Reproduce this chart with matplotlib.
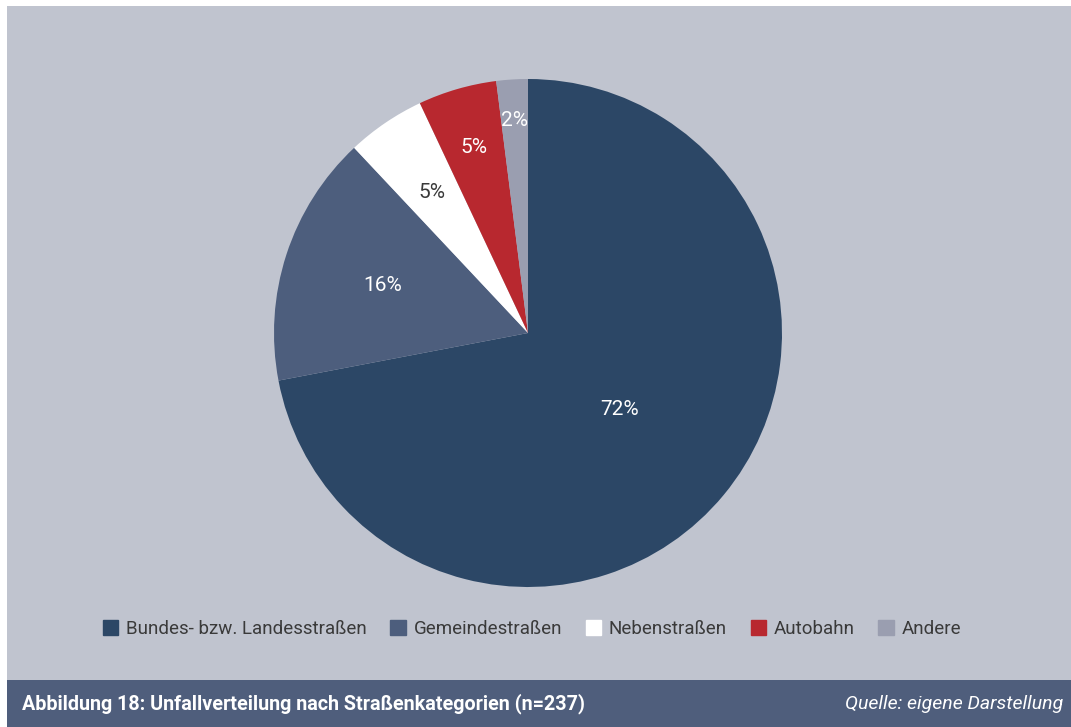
import numpy as np
import matplotlib.pyplot as plt
from matplotlib.patches import Rectangle

# Unfallverteilung nach Straßenkategorien (n=237)
categories = ["Bundes- bzw. Landesstraßen", "Gemeindestraßen", "Nebenstraßen", "Autobahn", "Andere"]
shares = [72, 16, 5, 5, 2]
labels = ["72%", "16%", "5%", "5%", "2%"]

colors = ["#2c4766", "#4d5e7d", "#ffffff", "#b8282f", "#9a9eb0"]
text_colors = ["white", "white", "#3a3a3a", "white", "white"]
label_r = [0.47, 0.60, 0.67, 0.76, 0.84]

plt.rcParams["font.family"] = ["Roboto", "DejaVu Sans"]

W, H = 1071, 727
fig = plt.figure(figsize=(W / 100, H / 100), dpi=100)
fig.patch.set_facecolor("white")

# background panel and footer bar
bg = fig.add_axes([0, 0, 1, 1])
bg.set_xlim(0, W)
bg.set_ylim(H, 0)
bg.axis("off")
bg.add_patch(Rectangle((7, 6), W - 7, 674, color="#c0c4cf", lw=0))
bg.add_patch(Rectangle((7, 680), W - 7, H - 680, color="#4f5e7c", lw=0))
bg.text(22, 704, "Abbildung 18: Unfallverteilung nach Straßenkategorien (n=237)",
        color="white", fontsize=14.2, fontweight="bold", va="center", ha="left")
bg.text(1063, 704, "Quelle: eigene Darstellung", color="white", fontsize=14,
        style="italic", va="center", ha="right")

# pie
ax = fig.add_axes([274 / W, (H - 587) / H, 508 / W, 508 / H])
wedges, _ = ax.pie(shares, colors=colors, startangle=90, counterclock=False,
                   wedgeprops=dict(linewidth=0))
ax.set_xlim(-1, 1)
ax.set_ylim(-1, 1)
ax.set_aspect("equal")
for w, lab, tc, r in zip(wedges, labels, text_colors, label_r):
    mid = np.deg2rad((w.theta1 + w.theta2) / 2)
    ax.text(r * np.cos(mid), r * np.sin(mid), lab, color=tc, fontsize=15,
            ha="center", va="center")

# legend
handles = [Rectangle((0, 0), 1, 1, color=c) for c in colors]
fig.legend(handles, categories, loc="center", bbox_to_anchor=(532 / W, 1 - 629 / H),
           ncol=5, frameon=False, fontsize=13.5, handlelength=0.85, handleheight=0.85,
           handletextpad=0.4, columnspacing=1.25, labelcolor="#3a3a3a")

fig.savefig("out.png", dpi=100)
